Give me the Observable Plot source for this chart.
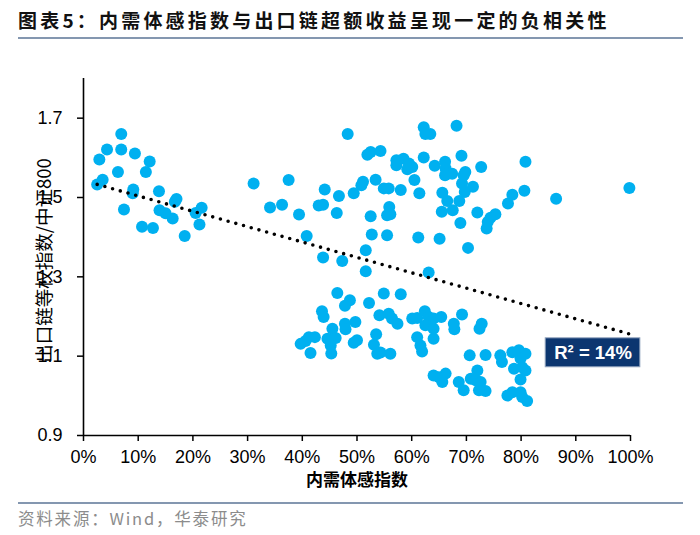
<!DOCTYPE html>
<html><head><meta charset="utf-8">
<script src="https://cdn.jsdelivr.net/npm/d3@7"></script>
<script src="https://cdn.jsdelivr.net/npm/@observablehq/plot@0.6"></script>
<style>
body{margin:0;background:#fff;}
#wrap{position:relative;width:700px;height:535px;overflow:hidden;background:#fff;}
#title{position:absolute;left:18px;top:6px;line-height:28px;font-family:"Noto Sans CJK SC",sans-serif;font-weight:bold;font-size:19px;letter-spacing:3.2px;color:#111;white-space:nowrap;}
#tline{position:absolute;left:18px;top:37px;width:665px;height:2px;background:#8497b0;}
#chart{position:absolute;left:0;top:40px;}
#fline{position:absolute;left:18px;top:502px;width:665px;height:2px;background:#8497b0;}
#source{position:absolute;left:18px;top:507px;line-height:22px;font-family:"Noto Sans CJK SC",sans-serif;font-size:16.5px;letter-spacing:1.8px;color:#8c8c8c;white-space:nowrap;}
</style></head>
<body>
<div id="wrap">
  <div id="title"></div>
  <div id="tline"></div>
  <div id="chart"></div>
  <div id="fline"></div>
  <div id="source"></div>
</div>
<script>
const titleText = "图表5：内需体感指数与出口链超额收益呈现一定的负相关性";
const sourceText = "资料来源：Wind，华泰研究";
const xTitle = "内需体感指数";
const yTitle = "出口链等权指数/中证800";
const xTicks = [0,10,20,30,40,50,60,70,80,90,100];
const yTicks = [0.9,1.1,1.3,1.5,1.7];

// 内需体感指数 (%)
const demandIdx = [
 6.9,4.3,6.9,9.4,2.9,12.1,6.3,11.4,3.5,2.5,9.1,9.0,13.8,7.4,17.0,16.7,13.9,15.0,16.3,21.6,
 20.5,21.2,10.7,12.7,18.5,31.1,37.5,34.1,36.3,39.4,48.3,62.2,62.5,63.4,68.2,51.9,52.5,54.3,57.2,58.5,
 57.2,59.5,60.1,59.2,62.2,64.2,66.1,69.1,72.7,80.8,66.2,66.5,67.4,66.1,69.8,69.5,53.4,51.1,50.8,60.5,
 69.2,71.2,69.7,44.1,46.7,49.4,54.9,55.8,58.0,61.4,65.6,78.4,80.6,86.4,99.8,43.0,43.8,46.3,52.5,55.9,
 55.5,56.1,66.5,68.7,65.5,67.5,72.0,75.3,74.4,73.9,77.6,68.9,73.7,52.7,55.5,61.2,65.1,40.8,51.6,70.3,
 43.8,47.3,51.6,63.1,46.4,48.7,47.8,52.2,43.6,43.9,54.9,58.0,47.8,49.7,45.5,47.9,42.3,41.2,39.7,40.6,
 41.5,44.6,46.1,45.2,45.3,49.4,50.0,53.5,53.1,53.7,54.1,55.8,56.4,57.4,60.1,61.0,62.4,63.1,64.0,65.4,
 62.5,64.0,64.0,67.7,67.8,69.2,54.3,56.1,61.0,61.6,61.9,70.6,73.5,76.2,76.5,78.4,79.6,80.8,79.9,78.7,
 80.2,80.8,79.9,64.0,65.0,66.2,65.6,68.6,69.5,70.8,72.0,71.7,72.6,72.3,73.5,77.5,78.4,79.9,80.2,81.1,
 72.8,72.4
];
// 出口链等权指数/中证800
const exportRatio = [
 1.660,1.621,1.621,1.611,1.596,1.591,1.564,1.564,1.545,1.533,1.520,1.511,1.516,1.470,1.496,1.489,1.468,1.460,1.447,1.474,
 1.461,1.432,1.426,1.423,1.403,1.535,1.544,1.475,1.482,1.457,1.660,1.677,1.660,1.660,1.681,1.608,1.615,1.617,1.594,1.598,
 1.581,1.586,1.577,1.571,1.601,1.580,1.590,1.605,1.577,1.590,1.573,1.560,1.560,1.556,1.564,1.556,1.545,1.540,1.531,1.544,
 1.535,1.527,1.514,1.520,1.504,1.511,1.523,1.523,1.519,1.511,1.512,1.507,1.517,1.497,1.524,1.480,1.482,1.461,1.453,1.476,
 1.455,1.458,1.491,1.491,1.464,1.468,1.462,1.458,1.449,1.438,1.485,1.436,1.422,1.407,1.405,1.399,1.396,1.403,1.367,1.373,
 1.349,1.340,1.314,1.311,1.259,1.241,1.227,1.234,1.213,1.199,1.258,1.256,1.182,1.186,1.169,1.168,1.148,1.148,1.131,1.138,
 1.108,1.144,1.146,1.127,1.107,1.134,1.140,1.155,1.129,1.106,1.203,1.207,1.195,1.182,1.195,1.196,1.213,1.199,1.195,1.199,
 1.178,1.169,1.144,1.182,1.168,1.205,1.109,1.106,1.148,1.127,1.112,1.102,1.103,1.102,1.085,1.110,1.115,1.106,1.094,1.068,
 1.072,1.064,1.041,1.051,1.047,1.056,1.035,1.035,1.014,1.043,1.064,1.039,1.035,1.014,1.012,1.001,1.009,1.009,0.997,0.987,
 1.182,1.169
];
// trend line end points
const trendX = [2.5, 99.8];
const trendY = [1.533, 1.156];
// R² annotation
const rBox = [{x1:84.5, x2:101.8, y1:1.072, y2:1.145}];
const rLabel = [{x:93.15, y:1.108, text:"R² = 14%"}];

const dotColor = "#00b0f0";
const pts = demandIdx.map((x,i)=>({x, y: exportRatio[i]}));
const trend = trendX.map((x,i)=>({x, y: trendY[i]}));

document.getElementById("title").textContent = titleText;
document.getElementById("source").textContent = sourceText;

const numFont = '"Liberation Sans", Arial, sans-serif';
const cjkFont = '"Noto Sans CJK SC", sans-serif';

const plot = Plot.plot({
  width: 700, height: 460,
  marginTop: 38, marginBottom: 65, marginLeft: 83, marginRight: 70,
  style: {fontFamily: numFont, fontSize: "18px", color: "#000", background: "transparent", overflow: "visible"},
  x: {domain: [0, 100]},
  y: {domain: [0.9, 1.8]},
  marks: [
    Plot.dot(pts, {x: "x", y: "y", r: 6, fill: dotColor}),
    Plot.line(trend, {x: "x", y: "y", stroke: "#000", strokeWidth: 3.6, strokeDasharray: "0 8", strokeLinecap: "round"}),
    Plot.axisX({ticks: xTicks, tickFormat: d => d + "%", tickSize: 6, tickPadding: 9, strokeWidth: 1.5, label: null, fontSize: 18}),
    Plot.axisY({ticks: yTicks, tickFormat: d => d.toFixed(1), tickSize: 6, tickPadding: 15, strokeWidth: 1.5, label: null, fontSize: 18}),
    Plot.ruleX([0], {stroke: "#000", strokeWidth: 1.6}),
    Plot.ruleY([0.9], {stroke: "#000", strokeWidth: 1.6}),
    Plot.rect(rBox, {x1: "x1", x2: "x2", y1: "y1", y2: "y2", fill: "#0c3670", stroke: "#8fa2bc", strokeWidth: 1}),
    Plot.text(rLabel, {x: "x", y: "y", text: "text", fill: "#fff", fontWeight: "bold", fontSize: 18.5, fontFamily: numFont}),
    Plot.text([yTitle], {text: d => d, frameAnchor: "left", dx: -38, dy: 3.5, rotate: -90, textAnchor: "middle", lineAnchor: "middle", fontSize: 18.5, fontFamily: cjkFont, fill: "#000"}),
    Plot.text([xTitle], {text: d => d, frameAnchor: "bottom", dy: 45, textAnchor: "middle", lineAnchor: "middle", fontSize: 17, fontWeight: "bold", fontFamily: cjkFont, fill: "#000"})
  ]
});
document.getElementById("chart").appendChild(plot);
</script>
</body></html>
